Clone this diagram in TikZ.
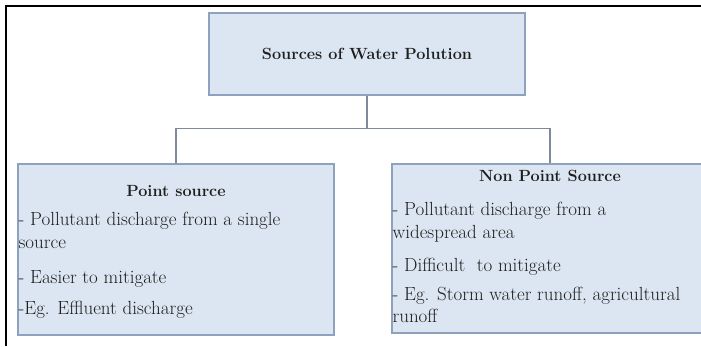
\documentclass[tikz,border=0pt]{standalone}
\usetikzlibrary{positioning, calc}
\definecolor{boxfill}{HTML}{DCE6F2}
\definecolor{boxline}{HTML}{8EA2BF}
\definecolor{linkline}{HTML}{7F8A99}
\definecolor{textcol}{HTML}{1E1E1E}

\begin{document}
\begin{tikzpicture}[
    x=1pt, y=1pt,
    box/.style={draw=boxline, fill=boxfill, line width=1.2pt, minimum width=316pt, inner sep=0pt},
    head/.style={font=\bfseries\fontsize{16.2}{19}\selectfont, text=textcol, inner sep=0pt},
    body/.style={font=\fontsize{19}{22.5}\selectfont, text=textcol, align=left, inner sep=0pt, anchor=north west},
    link/.style={draw=linkline, line width=1.2pt},
    frame/.style={line width=1.8pt, black},
]
\clip (0,0) rectangle (701,346);

% ============================================================ the frame
\draw[frame] (6,0) -- (6,340) -- (701,340);

% ============================================================ the boxes
\node[box, minimum height=82pt] (top) at (367,292) {};
\node[head] (toptext) at (top) {Sources of Water Polution};

\node[box, minimum height=171pt] (point) at (176,96.5) {};
\node[box, minimum height=169pt] (nonpoint) at (550,97.5) {};

% ============================================================ the links
\coordinate (split) at ($(top.south)+(0,-33)$);
\draw[link] (top.south) -- (split);
\draw[link] (split) -| (point.north);
\draw[link] (split) -| (nonpoint.north);

% ============================================================ point source
\node[head] (pointhead) at ([yshift=-28pt]point.north) {Point source};
\node[body] (pointtext) at ([xshift=1pt, yshift=-49pt]point.north west)
    {- Pollutant discharge from a single\\ source\\[13pt]
     - Easier to mitigate\\[8pt]
     -Eg. Effluent discharge};

% ============================================================ non point source
\node[head] (nonpointhead) at ([yshift=-13pt]nonpoint.north) {Non Point Source};
\node[body] (nonpointtext) at ([xshift=1pt, yshift=-39pt]nonpoint.north west)
    {- Pollutant discharge from a\\ widespread area\\[11pt]
     - Difficult\ \ to mitigate\\[6pt]
     - Eg. Storm water runoff, agricultural\\ runoff};

\end{tikzpicture}
\end{document}
